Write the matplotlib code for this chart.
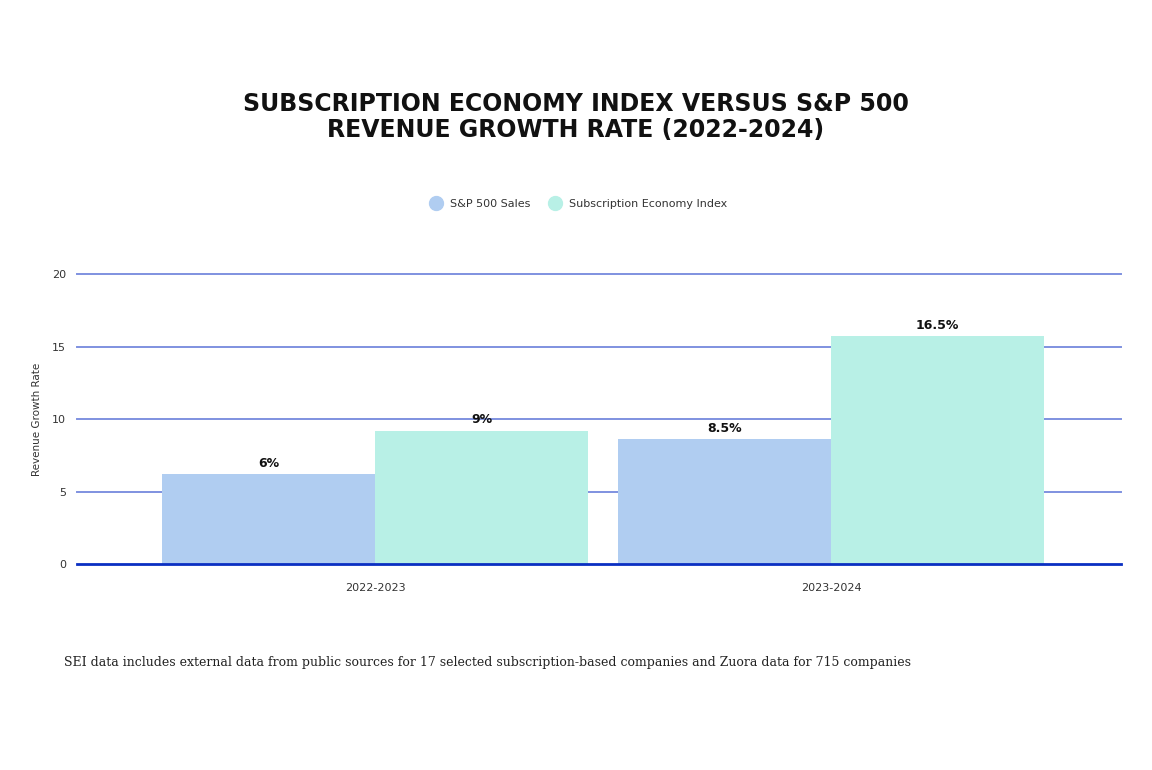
import matplotlib
import matplotlib.pyplot as plt
import numpy as np

matplotlib.use("Agg")

periods = ["2022-2023", "2023-2024"]
series_names = ["S&P 500 Sales", "Subscription Economy Index"]
sp500_values = [6.2, 8.6]
sei_values = [9.2, 15.7]
sp500_labels = ["6%", "8.5%"]
sei_labels = ["9%", "16.5%"]
y_ticks = [0, 5, 10, 15, 20]

BLUE = "#b0cdf1"
TEAL = "#b8f0e6"
GRID = "#7f92e0"
ZERO = "#0a2fc2"
TEXT = "#333333"

fig = plt.figure(figsize=(11.52, 7.7), dpi=100)
ax = fig.add_axes([0.0668, 0.2675, 0.9062, 0.3766])

x = np.arange(len(periods))
width = 0.467
bars_sp = ax.bar(x - width / 2, sp500_values, width, color=BLUE, zorder=2)
bars_sei = ax.bar(x + width / 2, sei_values, width, color=TEAL, zorder=2)

# value labels sit just above each bar
for bars, labels in ((bars_sp, sp500_labels), (bars_sei, sei_labels)):
    for bar, label in zip(bars, labels):
        ax.annotate(label, (bar.get_x() + bar.get_width() / 2, bar.get_height()),
                    xytext=(0, 3), textcoords="offset points", ha="center", va="bottom",
                    fontsize=9, fontweight="bold", color="#111111")

for t in y_ticks[1:]:
    ax.axhline(t, color=GRID, lw=1.4, zorder=1, clip_on=False)
ax.axhline(0, color=ZERO, lw=2, zorder=3, clip_on=False)

ax.set_xlim(-0.654, 1.636)
ax.set_ylim(0, 20)
ax.set_yticks(y_ticks)
ax.set_xticks(x)
ax.set_xticklabels(periods)
ax.tick_params(length=0, labelsize=8, colors=TEXT)
ax.tick_params(axis="y", pad=8)
ax.tick_params(axis="x", pad=14)
for spine in ax.spines.values():
    spine.set_visible(False)
ax.set_ylabel("Revenue Growth Rate", fontsize=7.5, color=TEXT, labelpad=7)

fig.text(0.5, 0.848, "SUBSCRIPTION ECONOMY INDEX VERSUS S&P 500\nREVENUE GROWTH RATE (2022-2024)",
         ha="center", va="center", fontsize=17, fontweight="bold", linespacing=1.1, color="#111111")

handles = [plt.Line2D([], [], marker="o", ls="", ms=10, color=c) for c in (BLUE, TEAL)]
fig.legend(handles, series_names, loc="center", bbox_to_anchor=(0.5, 0.735), ncol=2,
           frameon=False, fontsize=8, handletextpad=0.3, columnspacing=1.2,
           labelcolor=TEXT)

fig.text(0.0555, 0.14, "SEI data includes external data from public sources for 17 selected "
         "subscription-based companies and Zuora data for 715 companies",
         ha="left", va="center", fontsize=9, family="DejaVu Serif", color="#222222")

fig.savefig("out.png", dpi=100)
